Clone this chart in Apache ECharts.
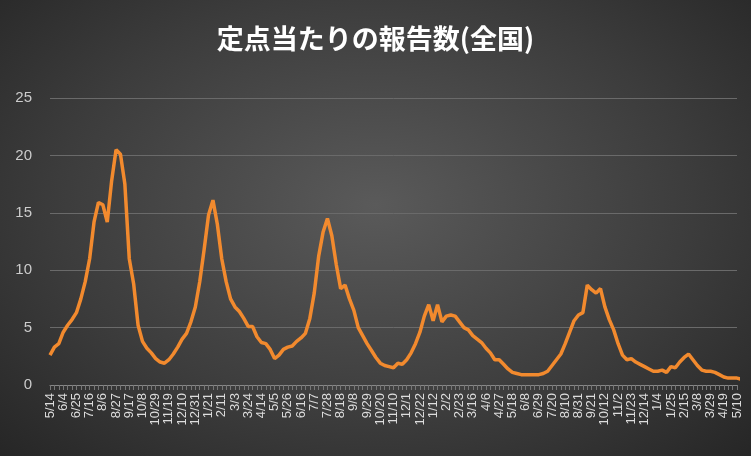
<!DOCTYPE html><html><head><meta charset="utf-8"><script src="https://cdn.jsdelivr.net/npm/echarts@6/dist/echarts.min.js"></script>
<style>html,body{margin:0;padding:0;}#c{width:751px;height:456px;background:radial-gradient(ellipse at 50% 45%,#5a5a5a 0%,#3c3c3c 60%,#262626 100%);}</style></head><body><div id="c"></div><script>
const startDate = [2023, 5, 14];
const weekCount = 157;
const values = [2.6,3.3,3.6,4.6,5.2,5.7,6.3,7.5,9.0,11.0,14.2,15.9,15.7,14.2,17.8,20.5,20.1,17.5,11.0,8.8,5.2,3.8,3.2,2.8,2.3,2.0,1.9,2.2,2.7,3.3,4.0,4.5,5.5,6.8,9.0,11.8,14.8,16.1,14.0,11.0,9.0,7.5,6.8,6.4,5.8,5.1,5.1,4.2,3.7,3.6,3.1,2.3,2.6,3.1,3.3,3.4,3.8,4.1,4.5,5.8,8.0,11.2,13.3,14.5,13.0,10.5,8.4,8.7,7.5,6.5,5.0,4.3,3.6,3.0,2.4,1.9,1.7,1.6,1.5,1.9,1.8,2.2,2.8,3.6,4.6,6.0,7.0,5.6,7.0,5.5,6.0,6.1,6.0,5.5,5.0,4.8,4.3,4.0,3.7,3.2,2.8,2.2,2.2,1.8,1.4,1.1,1.0,0.9,0.9,0.9,0.9,0.9,1.0,1.2,1.7,2.2,2.7,3.6,4.6,5.6,6.1,6.3,8.7,8.3,8.0,8.4,6.8,5.7,4.8,3.6,2.6,2.2,2.3,2.0,1.8,1.6,1.4,1.2,1.2,1.3,1.1,1.6,1.5,2.0,2.4,2.7,2.2,1.7,1.3,1.2,1.2,1.1,0.9,0.7,0.6,0.6,0.6,0.5,0.3,0.4];
const categories = [];
for (let i = 0; i < weekCount; i++) {
  const d = new Date(startDate[0], startDate[1]-1, startDate[2] + 7*i);
  categories.push((d.getMonth()+1) + '/' + d.getDate());
}
const chart = echarts.init(document.getElementById('c'));
chart.setOption({
  title:{text:'定点当たりの報告数(全国)',left:'center',top:20,textStyle:{color:'#fff',fontSize:27,fontWeight:'bold',fontFamily:'Noto Sans CJK JP'}},
  grid:{left:50,right:14,top:98,bottom:71},
  xAxis:{type:'category',data:categories,boundaryGap:false,
    axisLine:{lineStyle:{color:'#888'}},axisTick:{show:true,interval:0,lineStyle:{color:'#777'}},
    axisLabel:{interval:2,rotate:90,color:'#ddd',fontSize:13,fontFamily:'Liberation Sans'}},
  yAxis:{type:'value',min:0,max:25,interval:5,
    axisLabel:{color:'#ccc',fontSize:15,fontFamily:'Liberation Sans',margin:18},
    splitLine:{lineStyle:{color:'#6a6a6a'}},axisLine:{show:false}},
  series:[{type:'line',data:values,showSymbol:false,smooth:false,lineStyle:{color:'#F28A2E',width:3.5},itemStyle:{color:'#F28A2E'}}]
});
</script></body></html>
